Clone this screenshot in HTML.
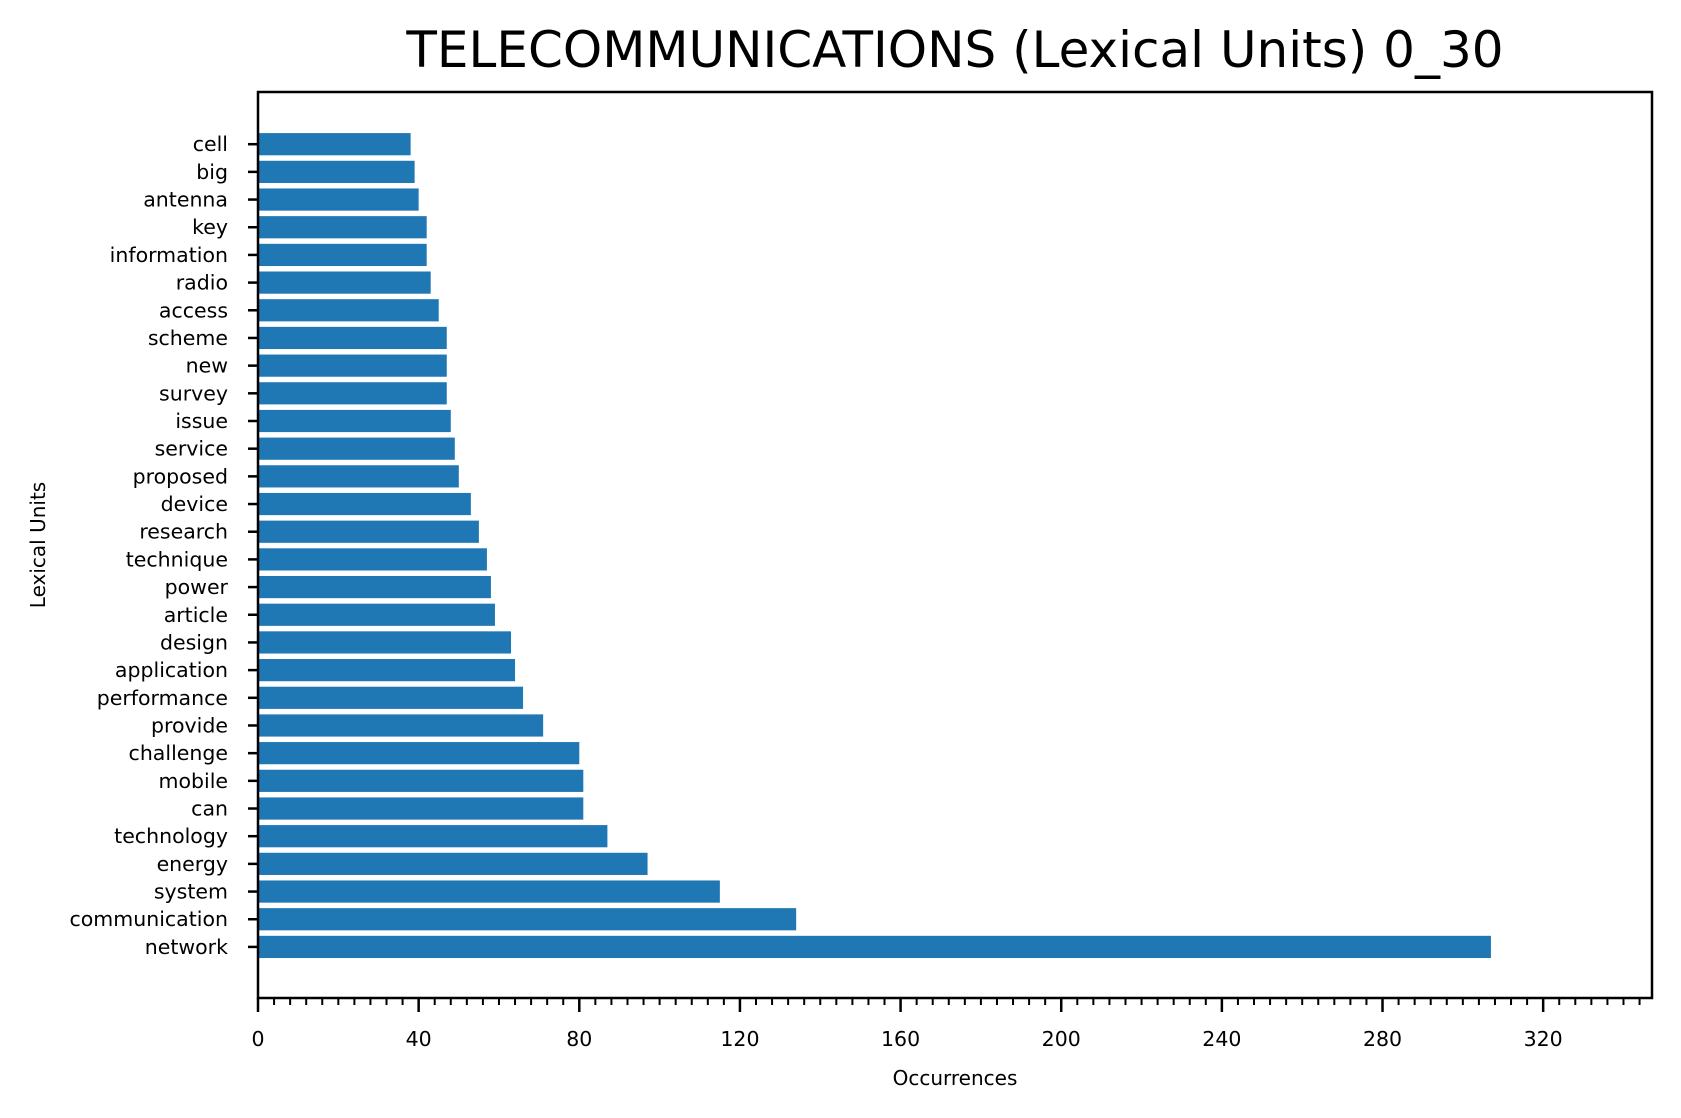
<!DOCTYPE html>
<html><head><meta charset="utf-8"><style>body{margin:0;background:#fff}svg{display:block;font-family:"DejaVu Sans","Liberation Sans",sans-serif}</style></head>
<body>
<svg id="c" width="1681" height="1118" viewBox="0 0 1681 1118" xmlns="http://www.w3.org/2000/svg"></svg>
<script>
const categories=["cell","big","antenna","key","information","radio","access","scheme","new","survey","issue","service","proposed","device","research","technique","power","article","design","application","performance","provide","challenge","mobile","can","technology","energy","system","communication","network"];
const values=[38,39,40,42,42,43,45,47,47,47,48,49,50,53,55,57,58,59,63,64,66,71,80,81,81,87,97,115,134,307];
const xTicks=[0,40,80,120,160,200,240,280,320];
const L=258,R=1652,T=92,B=998,XMAX=347.1;
const sx=v=>L+v*(R-L)/XMAX;
const rowTop=144.2,rowStep=27.68;
const sy=i=>rowTop+i*rowStep;
const svg=document.getElementById('c');const NS='http://www.w3.org/2000/svg';
function mk(t,a,txt){const e=document.createElementNS(NS,t);for(const k in a)e.setAttribute(k,a[k]);if(txt!==undefined)e.textContent=txt;svg.appendChild(e);return e;}
categories.forEach((c,i)=>{
 const r=mk('rect',{x:sx(0),y:sy(i)-11.1,width:sx(values[i])-sx(0),height:22.2,fill:'#1f77b4'});
 
 
 const tk=mk('line',{x1:L-10,x2:L,y1:sy(i),y2:sy(i),stroke:'#000','stroke-width':2.5});
 
 
 const t=mk('text',{x:L-30,y:sy(i)+7,'text-anchor':'end','font-size':20.5},c);
 
 
});
for(let v=0;v<=XMAX;v+=4){
 const maj=v%40===0;
 const tk=mk('line',{x1:sx(v),x2:sx(v),y1:B,y2:B+(maj?14:7),stroke:'#000','stroke-width':maj?2.5:2});
 
 
}
xTicks.forEach(v=>{
 const t=mk('text',{x:sx(v),y:B+48,'text-anchor':'middle','font-size':20.5},String(v));
 
 
});
const fr=mk('rect',{x:L,y:T,width:R-L,height:B-T,fill:'none',stroke:'#000','stroke-width':2.5});


const ti=mk('text',{x:(L+R)/2,y:67,'text-anchor':'middle','font-size':50},'TELECOMMUNICATIONS (Lexical Units) 0_30');


const xl=mk('text',{x:(L+R)/2,y:1085,'text-anchor':'middle','font-size':20},'Occurrences');


const yl=mk('text',{x:45,y:(T+B)/2,'text-anchor':'middle','font-size':20,transform:'rotate(-90 45 '+((T+B)/2)+')'},'Lexical Units');


</script>
</body></html>
